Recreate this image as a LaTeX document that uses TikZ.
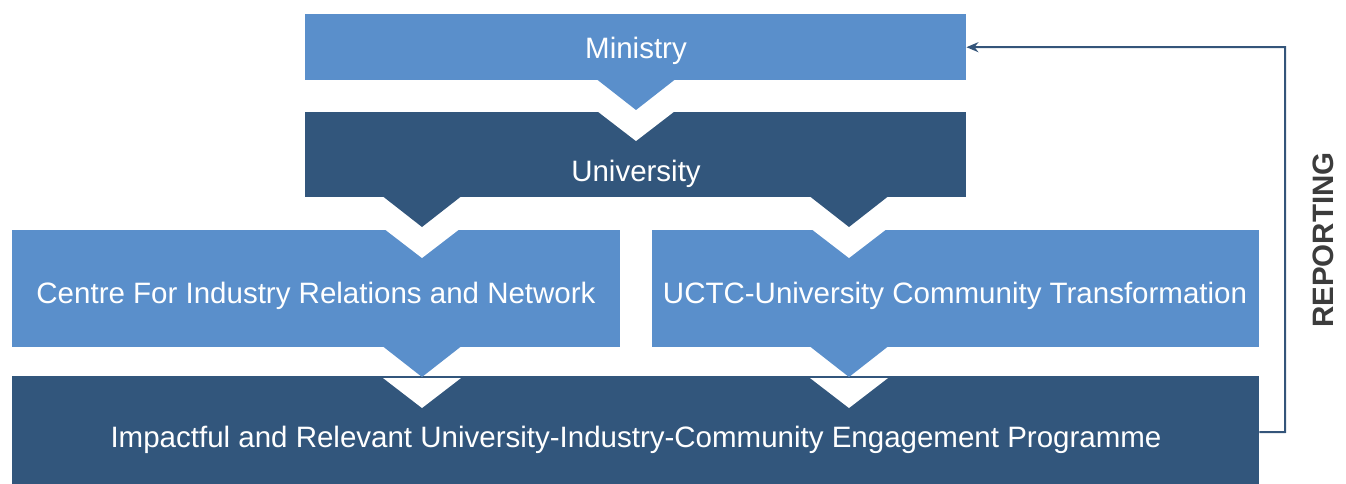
\documentclass[tikz,border=0pt]{standalone}
\usepackage{fontspec}
\setmainfont{Liberation Sans}
\usetikzlibrary{arrows.meta,calc}
\definecolor{lightblue}{HTML}{5A8FCB}
\definecolor{darkblue}{HTML}{32567C}
\definecolor{repgray}{HTML}{3C3C3C}
\definecolor{lineblue}{HTML}{34557A}
\tikzset{
  box/.style={rectangle, draw=none, inner sep=0pt, anchor=north west},
  lightbox/.style={box, fill=lightblue},
  darkbox/.style={box, fill=darkblue},
  boxtext/.style={text=white, font=\fontsize{29.5}{32}\selectfont, inner sep=0pt},
  notch/.style={fill=white, draw=none},
  reparrow/.style={draw=lineblue, line width=2pt, -{Stealth[length=12pt,width=10pt]}},
}
\begin{document}
\begin{tikzpicture}[x=1pt,y=-1pt]
\useasboundingbox (0,0) rectangle (1346,484);
% boxes
\node[lightbox, minimum width=661pt, minimum height=66pt] (ministry) at (305,14) {};
\node[darkbox, minimum width=661pt, minimum height=85pt] (university) at (305,112) {};
\node[lightbox, minimum width=608pt, minimum height=117pt] (centre) at (12,230) {};
\node[lightbox, minimum width=607pt, minimum height=117pt] (uctc) at (652,230) {};
\node[darkbox, minimum width=1247pt, minimum height=108pt] (prog) at (12,376) {};
% white notches
\fill[notch] (597,111) -- (636,141) -- (675,111) -- cycle;
\fill[notch] (383,228) -- (422,258) -- (461,228) -- cycle;
\fill[notch] (810,228) -- (849,258) -- (888,228) -- cycle;
\fill[notch] (383,378) -- (422,408) -- (461,378) -- cycle;
\fill[notch] (810,378) -- (849,408) -- (888,378) -- cycle;
% pointers
\fill[lightblue] (597,79.5) -- (636,110) -- (675,79.5) -- cycle;
\fill[darkblue] (383,196.5) -- (422,227) -- (461,196.5) -- cycle;
\fill[darkblue] (810,196.5) -- (849,227) -- (888,196.5) -- cycle;
\fill[lightblue] (383,346.5) -- (422,377) -- (461,346.5) -- cycle;
\fill[lightblue] (810,346.5) -- (849,377) -- (888,346.5) -- cycle;
% texts
\node[boxtext] (tministry) at (636,51) {Ministry};
\node[boxtext] (tuniversity) at (636,174) {University};
\node[boxtext] (tcentre) at (316,296) {Centre For Industry Relations and Network};
\node[boxtext] (tuctc) at (955,296) {UCTC-University Community Transformation};
\node[boxtext] (tprog) at (636,440) {Impactful and Relevant University-Industry-Community Engagement Programme};
% reporting
\node[text=repgray, font=\bfseries\fontsize{29.5}{32}\selectfont, rotate=90, inner sep=0pt] (rep) at (1323,240) {REPORTING};
\coordinate (repcorner) at (1285,432);
\draw[reparrow] ([yshift=-2pt]prog.east) -- (repcorner) |- (ministry.east);
\end{tikzpicture}
\end{document}
